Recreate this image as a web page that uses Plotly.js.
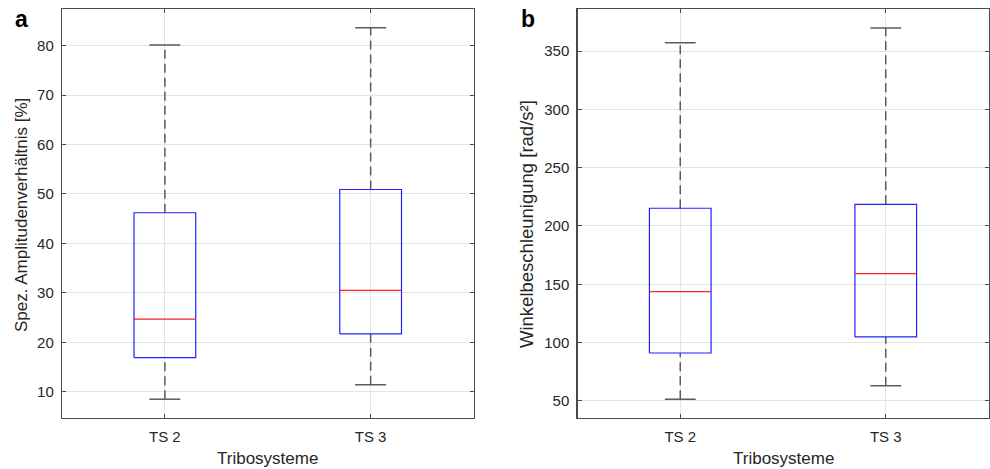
<!DOCTYPE html>
<html>
<head>
<meta charset="utf-8">
<script src="https://cdn.plot.ly/plotly-3.0.1.min.js"></script>
<style>html,body{margin:0;padding:0;background:#fff;}#chart{width:990px;height:469px;}</style>
</head>
<body>
<div id="chart"></div>
<script>
// Data
const categories = ['TS 2', 'TS 3'];
const ampLower  = [8.5, 11.4];
const ampQ1     = [16.9, 21.7];
const ampMedian = [24.7, 30.5];
const ampQ3     = [46.2, 50.9];
const ampUpper  = [80.1, 83.6];

const accLower  = [51.4, 63.1];
const accQ1     = [91.1, 104.9];
const accMedian = [143.7, 159.1];
const accQ3     = [215.2, 218.6];
const accUpper  = [357.1, 369.7];

const yTitleA = 'Spez. Amplitudenverhältnis [%]';
const yTitleB = 'Winkelbeschleunigung [rad/s²]';
const xTitle = 'Tribosysteme';

const HALF = 0.15, CAP = 0.075;

function boxTraces(lower, q1, med, q3, upper, xa, ya) {
  const bx = [], by = [], mx = [], my = [], wx = [], wy = [], cx = [], cy = [];
  categories.forEach((c, i) => {
    bx.push(i - HALF, i + HALF, i + HALF, i - HALF, i - HALF, null);
    by.push(q1[i], q1[i], q3[i], q3[i], q1[i], null);
    mx.push(i - HALF, i + HALF, null);
    my.push(med[i], med[i], null);
    wx.push(i, i, null, i, i, null);
    wy.push(q3[i], upper[i], null, lower[i], q1[i], null);
    cx.push(i - CAP, i + CAP, null, i - CAP, i + CAP, null);
    cy.push(upper[i], upper[i], null, lower[i], lower[i], null);
  });
  const common = {type: 'scatter', mode: 'lines', xaxis: xa, yaxis: ya, hoverinfo: 'skip', showlegend: false};
  return [
    Object.assign({}, common, {x: wx, y: wy, line: {color: '#5a5a5a', width: 1.5, dash: '9px,5px'}}),
    Object.assign({}, common, {x: cx, y: cy, line: {color: '#5a5a5a', width: 1.5}}),
    Object.assign({}, common, {x: bx, y: by, line: {color: '#2020ff', width: 1.2}}),
    Object.assign({}, common, {x: mx, y: my, line: {color: '#ff2020', width: 1.2}})
  ];
}

const data = [].concat(
  boxTraces(ampLower, ampQ1, ampMedian, ampQ3, ampUpper, 'x', 'y'),
  boxTraces(accLower, accQ1, accMedian, accQ3, accUpper, 'x2', 'y2')
);

const W = 990, H = 469;
const yDom = [(H - 418) / H, (H - 9) / H];
const tickFont = {family: 'Liberation Sans, Arial, sans-serif', size: 15, color: '#262626'};

function xAxis(dom, anchor) {
  return {
    domain: dom, anchor: anchor, range: [-0.5, 1.5],
    tickmode: 'array', tickvals: categories.map((c, i) => i), ticktext: categories,
    showgrid: true, gridcolor: '#e4e4e4', gridwidth: 1,
    showline: true, linecolor: '#4a4a4a', linewidth: 1.2, mirror: 'ticks',
    ticks: 'inside', ticklen: 4, tickcolor: '#4a4a4a',
    tickfont: tickFont, zeroline: false, fixedrange: true, ticklabelstandoff: 5
  };
}
function yAxis(dom, anchor, range, dtick) {
  return {
    domain: dom, anchor: anchor, range: range, tick0: 0, dtick: dtick,
    showgrid: true, gridcolor: '#e4e4e4', gridwidth: 1,
    showline: true, linecolor: '#4a4a4a', linewidth: 1.2, mirror: 'ticks',
    ticks: 'inside', ticklen: 4, tickcolor: '#4a4a4a',
    tickfont: tickFont, zeroline: false, fixedrange: true, ticklabelstandoff: 4
  };
}

const titleFont = {family: 'Liberation Sans, Arial, sans-serif', size: 17, color: '#262626'};
const titleFontB = {family: 'Liberation Sans, Arial, sans-serif', size: 18.5, color: '#262626'};
const xA = [62 / W, 473.5 / W];
const xB = [577.5 / W, 988.5 / W];

const layout = {
  width: W, height: H,
  margin: {l: 0, r: 0, t: 0, b: 0},
  paper_bgcolor: '#ffffff', plot_bgcolor: '#ffffff',
  showlegend: false, hovermode: false,
  xaxis: xAxis(xA, 'y'),
  yaxis: yAxis(yDom, 'x', [4.7, 87.4], 10),
  xaxis2: xAxis(xB, 'y2'),
  yaxis2: yAxis(yDom, 'x2', [35.4, 386], 50),
  annotations: [
    {text: xTitle, xref: 'paper', yref: 'paper', x: (xA[0] + xA[1]) / 2, y: (H - 458) / H,
     xanchor: 'center', yanchor: 'middle', showarrow: false, font: titleFont},
    {text: xTitle, xref: 'paper', yref: 'paper', x: (xB[0] + xB[1]) / 2, y: (H - 458) / H,
     xanchor: 'center', yanchor: 'middle', showarrow: false, font: titleFont},
    {text: yTitleA, xref: 'paper', yref: 'paper', x: 21 / W, y: (H - 215) / H, textangle: -90,
     xanchor: 'center', yanchor: 'middle', showarrow: false, font: titleFont},
    {text: yTitleB, xref: 'paper', yref: 'paper', x: 526 / W, y: (H - 224) / H, textangle: -90,
     xanchor: 'center', yanchor: 'middle', showarrow: false, font: titleFontB},
    {text: '<b>a</b>', xref: 'paper', yref: 'paper', x: 21 / W, y: (H - 19) / H,
     xanchor: 'center', yanchor: 'middle', showarrow: false,
     font: {family: 'Liberation Sans, Arial, sans-serif', size: 23, color: '#000'}},
    {text: '<b>b</b>', xref: 'paper', yref: 'paper', x: 528 / W, y: (H - 19) / H,
     xanchor: 'center', yanchor: 'middle', showarrow: false,
     font: {family: 'Liberation Sans, Arial, sans-serif', size: 23, color: '#000'}}
  ]
};

Plotly.newPlot('chart', data, layout, {staticPlot: true, displayModeBar: false});
</script>
</body>
</html>
